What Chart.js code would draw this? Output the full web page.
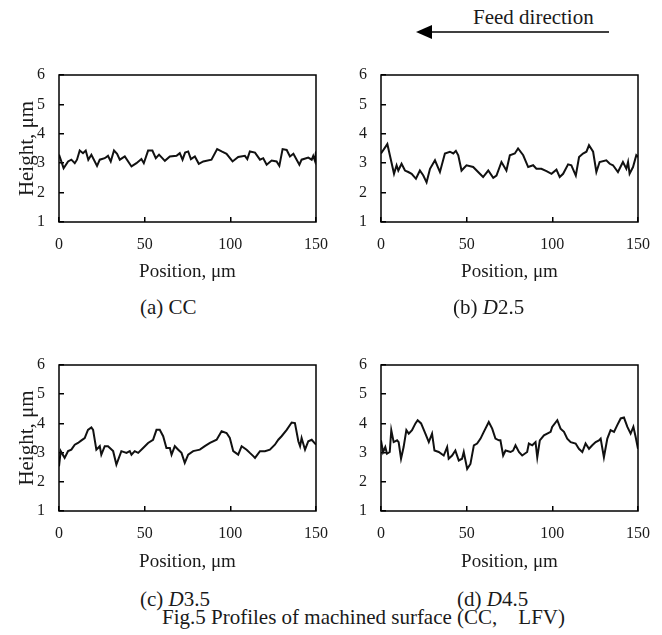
<!DOCTYPE html>
<html>
<head>
<meta charset="utf-8">
<script src="https://cdn.jsdelivr.net/npm/chart.js@4.4.1/dist/chart.umd.min.js"></script>
<style>
  body { margin:0; width:662px; height:635px; position:relative; overflow:hidden; background:#fff;
         font-family:'Liberation Serif', 'Times New Roman', serif; color:#1a1a1a; }
  canvas { position:absolute; }
  .txt { position:absolute; font-size:21px; line-height:21px; white-space:pre; }
  svg { position:absolute; }
</style>
</head>
<body>

<div class="txt" style="left:473px;top:7px;">Feed direction</div>
<svg style="left:410px;top:20px;" width="205" height="25">
  <line x1="20" y1="12" x2="199" y2="12" stroke="#000" stroke-width="1.6"/>
  <polygon points="6,12 22,5 22,19" fill="#000"/>
</svg>

<canvas id="chartA" width="330" height="230" style="left:0;top:60px;"></canvas>
<canvas id="chartB" width="330" height="230" style="left:322px;top:60px;"></canvas>
<canvas id="chartC" width="330" height="230" style="left:0;top:350px;"></canvas>
<canvas id="chartD" width="330" height="230" style="left:322px;top:350px;"></canvas>

<div class="txt" style="left:140px;top:297px;">(a) CC</div>
<div class="txt" style="left:453px;top:297px;">(b) <i>D</i>2.5</div>
<div class="txt" style="left:140px;top:589px;">(c) <i>D</i>3.5</div>
<div class="txt" style="left:457px;top:589px;">(d) <i>D</i>4.5</div>
<div class="txt" style="left:162px;top:607px;">Fig.5 Profiles of machined surface (CC,　LFV)</div>

<script>
// axis ticks
const xTicks = [0, 50, 100, 150];
const yTicks = [1, 2, 3, 4, 5, 6];

// (a) CC
const posA = [0,2.7,5.3,7.2,9.2,10.5,12.1,14.0,15.6,17.1,18.9,22.2,23.8,26.7,28.6,30.2,32.1,33.9,35.5,38.4,42.3,45.2,48.1,49.5,52.0,54.5,56.5,58.4,61.8,64.7,68.6,70.5,72.1,73.6,75.4,77.0,79.3,81.6,84.2,89.0,92.3,94.9,97.8,101.3,104.6,108.5,109.9,111.4,114.4,117.3,119.2,121.2,124.1,127.0,128.6,130.5,132.9,134.8,136.8,140.3,141.6,145.5,147.5,148.4,149.4,150];
const heightA = [3.29,2.83,3.06,3.12,3.00,3.12,3.43,3.34,3.43,3.12,3.29,2.91,3.12,3.17,3.25,3.06,3.43,3.32,3.12,3.23,2.89,3.00,3.14,3.00,3.43,3.43,3.17,3.29,3.08,3.23,3.25,3.34,3.12,3.36,3.40,3.14,3.23,2.98,3.06,3.12,3.48,3.40,3.32,3.06,3.21,3.25,3.14,3.40,3.36,3.12,3.17,2.95,3.09,3.06,2.91,3.48,3.45,3.23,3.32,2.95,3.12,3.19,3.12,3.25,3.08,3.40];

// (b) D2.5
const posB = [0,3.7,7.6,9.1,10.1,12.0,14.0,15.9,17.9,20.4,22.7,24.7,26.6,28.6,31.5,34.4,37.3,40.2,42.2,43.7,45.1,47.0,49.9,53.8,57.7,59.6,62.6,65.5,67.4,70.3,73.2,75.2,78.1,80.0,83.0,85.9,88.8,90.7,93.6,96.6,99.5,102.4,104.3,106.3,109.2,111.1,113.7,115.6,117.9,119.9,121.4,123.8,125.7,127.6,131.5,133.5,135.4,138.3,141.2,143.2,144.2,145.1,147.1,149.0,150];
const heightB = [3.33,3.65,2.64,2.93,2.75,2.98,2.75,2.70,2.64,2.47,2.75,2.58,2.35,2.81,3.10,2.70,3.33,3.39,3.33,3.42,3.27,2.75,2.93,2.87,2.64,2.53,2.75,2.50,2.58,3.04,2.75,3.27,3.33,3.50,3.27,2.87,2.93,2.81,2.81,2.73,2.64,2.78,2.53,2.64,2.96,2.93,2.58,3.21,3.33,3.39,3.61,3.39,2.70,3.04,3.10,2.98,2.93,2.70,3.04,2.81,3.04,2.64,2.87,3.27,3.21];

// (c) D3.5
const posC = [0,1.0,3.3,5.3,7.2,9.2,11.1,13.1,15.0,16.9,18.9,19.9,21.8,23.8,24.7,26.7,28.6,31.6,33.5,36.4,39.4,41.3,42.3,44.2,46.2,49.1,52.0,54.9,56.9,58.8,60.8,62.7,64.7,65.7,67.6,69.6,71.5,73.4,75.4,78.3,82.2,85.1,88.1,92.0,94.9,97.8,99.7,101.7,104.6,106.6,109.5,111.4,113.4,114.4,117.3,120.2,123.1,126.0,128.0,129.9,132.9,135.8,137.7,139.7,140.7,141.6,143.6,145.5,147.5,150];
const heightC = [2.53,3.05,2.82,3.05,3.10,3.27,3.33,3.42,3.50,3.78,3.86,3.78,3.10,3.22,2.93,3.22,3.22,3.05,2.59,3.05,2.99,3.05,2.93,3.05,2.99,3.16,3.33,3.44,3.78,3.78,3.56,3.16,3.16,2.93,3.22,3.10,2.99,2.65,2.93,3.05,3.10,3.22,3.33,3.44,3.73,3.67,3.50,3.05,2.93,3.22,3.10,2.99,2.88,2.82,3.05,3.05,3.10,3.27,3.44,3.56,3.78,4.03,4.01,3.39,3.22,3.50,3.10,3.39,3.44,3.27];

// (d) D4.5
const posD = [0,1.2,2.5,3.5,5.1,6.0,7.4,9.4,10.3,11.7,13.2,14.8,16.2,18.1,20.1,21.4,23.4,25.9,27.9,29.8,31.2,33.7,36.6,38.6,39.5,41.5,43.4,45.4,47.3,48.3,50.3,52.2,54.2,56.1,58.1,60.0,62.9,64.9,66.8,68.8,69.7,71.3,72.7,75.6,77.1,78.5,80.5,82.4,85.3,86.3,88.3,90.2,91.2,92.7,95.1,99.0,99.9,102.9,104.8,106.8,108.7,110.7,113.6,115.5,117.5,119.4,121.4,123.3,125.3,127.2,128.2,130.1,132.1,134.0,136.0,137.9,139.9,141.8,143.8,145.7,147.3,148.6,150];
const heightD = [3.42,3.02,3.19,2.96,3.02,3.77,3.36,3.42,3.36,2.79,3.19,3.77,3.65,3.77,4.00,4.11,4.00,3.65,3.36,3.65,3.07,3.02,2.90,3.19,2.79,2.90,3.07,2.73,2.79,3.02,2.44,2.61,3.25,3.31,3.48,3.71,4.05,3.82,3.48,3.42,3.42,2.90,3.07,3.02,3.07,3.25,3.02,2.90,3.02,3.31,3.25,3.36,2.84,3.42,3.59,3.71,3.88,4.11,3.82,3.71,3.48,3.36,3.31,3.13,3.02,3.31,3.13,3.25,3.36,3.42,3.48,2.84,3.48,3.77,3.71,3.94,4.17,4.20,3.88,3.65,3.88,3.54,3.13];

const ink = '#1a1a1a';
Chart.defaults.font.family = "'Liberation Serif', 'Times New Roman', serif";
Chart.defaults.color = ink;

// box around the plot area
const frame = {
  id: 'frame',
  afterDraw(chart) {
    const { ctx, chartArea: a } = chart;
    ctx.save();
    ctx.strokeStyle = '#000';
    ctx.lineWidth = 1.5;
    ctx.strokeRect(a.left, a.top, a.right - a.left, a.bottom - a.top);
    ctx.restore();
  }
};

// inward tick marks: negative tickLength
const tickGrid = { drawOnChartArea:false, drawTicks:true, tickLength:-5, color:'#000', lineWidth:1.5 };

function profileChart(id, pos, height, showYTitle, xAxisHeight) {
  return new Chart(document.getElementById(id), {
    type: 'line',
    data: {
      datasets: [{
        data: pos.map((x, i) => ({ x, y: height[i] })),
        borderColor: '#111',
        borderWidth: 2,
        pointRadius: 0,
        tension: 0,
        fill: false
      }]
    },
    options: {
      responsive: false,
      animation: false,
      events: [],
      layout: { padding: { top:15, right:14, left:0, bottom:0 } },
      plugins: { legend:{ display:false }, tooltip:{ enabled:false } },
      scales: {
        x: {
          type: 'linear',
          min: xTicks[0], max: xTicks[xTicks.length - 1],
          afterBuildTicks: s => { s.ticks = xTicks.map(v => ({ value: v })); },
          // fixed size, no extra room for end labels
          afterFit: s => { s.height = xAxisHeight; s.paddingLeft = 0; s.paddingRight = 0; },
          grid: tickGrid,
          border: { display:false },
          ticks: { padding:18.4, font:{ size:16 }, maxRotation:0, autoSkip:false },
          title: { display:true, text:'Position, μm', font:{ size:19 }, padding:{ top:0, bottom:6.6 } }
        },
        y: {
          type: 'linear',
          min: yTicks[0], max: yTicks[yTicks.length - 1],
          afterBuildTicks: s => { s.ticks = yTicks.map(v => ({ value: v })); },
          afterFit: s => { s.width = 59; s.paddingTop = 0; s.paddingBottom = 0; },
          grid: tickGrid,
          border: { display:false },
          ticks: { padding:19, font:{ size:16 } },
          title: { display:showYTitle, text:'Height, μm', font:{ size:21 }, padding:{ top:14.4, bottom:0 } }
        }
      }
    },
    plugins: [frame]
  });
}

profileChart('chartA', posA, heightA, true, 68);
profileChart('chartB', posB, heightB, false, 68);
profileChart('chartC', posC, heightC, true, 69);
profileChart('chartD', posD, heightD, false, 69);
</script>
</body>
</html>
